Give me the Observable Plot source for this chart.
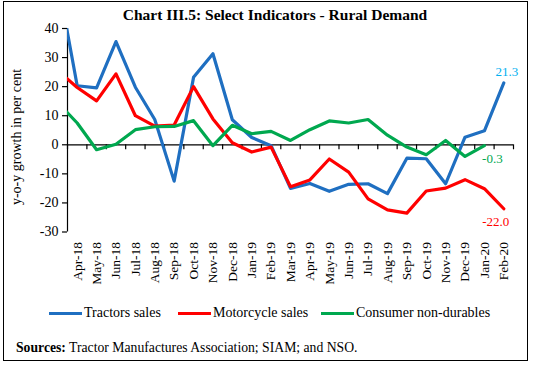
<!DOCTYPE html>
<html><head><meta charset="utf-8">
<script src="https://cdn.jsdelivr.net/npm/d3@7"></script>
<script src="https://cdn.jsdelivr.net/npm/@observablehq/plot@0.6"></script>
<style>
body{margin:0;background:#fff;}
#chart{position:relative;width:533px;height:366px;font-family:"Liberation Serif","Times New Roman",serif;color:#000;overflow:hidden;}
#chart svg, #chart svg text{font-family:"Liberation Serif","Times New Roman",serif !important;}
#frame{position:absolute;left:3px;top:1px;width:525px;height:360px;border:1.3px solid #000;box-sizing:border-box;}
#title{position:absolute;top:6px;left:0;width:550px;text-align:center;font-weight:bold;font-size:15.5px;line-height:18px;}
#plot{position:absolute;left:0;top:20px;}
#ylabel{position:absolute;left:17px;top:137px;transform:translate(-50%,-50%) rotate(-90deg);white-space:nowrap;font-size:14px;}
.leg{position:absolute;top:304px;font-size:14px;line-height:18px;white-space:nowrap;}
.sw{position:absolute;top:312px;height:3px;width:33px;}
#src{position:absolute;left:16px;top:339px;font-size:13.7px;line-height:18px;white-space:nowrap;}
</style></head>
<body>
<div id="chart">
  <div id="frame"></div>
  <div id="title">Chart III.5: Select Indicators - Rural Demand</div>
  <div id="plot"></div>
  <div id="ylabel">y-o-y growth in per cent</div>
  <div id="legend"></div>
  <div id="src"><b>Sources:</b> Tractor Manufactures Association; SIAM; and NSO.</div>
</div>
<script>
// Categories: first month (Mar-18) lies just left of the axis and is clipped
const months = ["Mar-18","Apr-18","May-18","Jun-18","Jul-18","Aug-18","Sep-18","Oct-18","Nov-18","Dec-18",
  "Jan-19","Feb-19","Mar-19","Apr-19","May-19","Jun-19","Jul-19","Aug-19","Sep-19","Oct-19","Nov-19","Dec-19",
  "Jan-20","Feb-20"];
const tractors = [56.7,20.3,19.6,35.5,19.8,8.7,-12.5,23.2,31.3,8.6,2.5,-0.3,-15.0,-13.3,-16.0,-13.6,-13.4,-16.8,-4.6,-4.8,-13.4,2.6,4.8,21.3];
const motorcycles = [25.5,19.7,15.1,24.4,10.0,6.4,6.8,20.0,8.9,0.7,-2.5,-0.8,-14.4,-12.1,-4.9,-9.4,-18.6,-22.4,-23.5,-15.9,-14.9,-12.0,-15.1,-22.0];
const consumer = [14.5,7.5,-1.7,0.2,5.2,6.2,6.3,8.3,-0.3,6.7,3.8,4.6,1.5,5.2,8.2,7.5,8.7,3.3,-0.8,-3.4,1.5,-4.0,-0.3];
const seriesNames = ["Tractors sales","Motorcycle sales","Consumer non-durables"];
const seriesColors = ["#1F6FC1","#FF0000","#00A84F"];
const labelColors = ["#00B0F0","#FF0000","#00A84F"];
const yTicks = [-30,-20,-10,0,10,20,30,40];

const visible = months.slice(1);           // axis labels Apr-18 .. Feb-20
const allSeries = [tractors, motorcycles, consumer];
const rows = allSeries.map((arr, s) => arr.map((v, k) => ({i: k - 1, v, s})));
const lastRows = rows.map(r => r[r.length - 1]);
const tickPos = d3.range(visible.length + 1).map(k => k - 0.5);
const labelOffsets = [[3, -11], [-8, 13], [8, 13]];
const serif = "'Liberation Serif','Times New Roman',serif";

const chart = Plot.plot({
  width: 533, height: 272,
  marginLeft: 67, marginRight: 20, marginTop: 8, marginBottom: 60.5,
  x: {type: "linear", domain: [-0.5, visible.length - 0.5], label: null},
  y: {domain: [-30, 40], label: null},
  style: {fontFamily: serif, color: "#000", background: "transparent", overflow: "visible"},
  marks: [
    Plot.ruleX([-0.5], {stroke: "#000", strokeWidth: 1.2}),
    Plot.axisY({ticks: yTicks, label: null, tickSize: 5, tickPadding: 4, fontSize: 14, fontFamily: serif,
      tickFormat: d => d < 0 ? "-" + Math.abs(d) : String(d), strokeWidth: 1.2}),
    Plot.ruleY([0], {stroke: "#000", strokeWidth: 1.2}),
    Plot.ruleX(tickPos, {x: d => d, y1: 0, y2: 0, insetBottom: -5, stroke: "#000", strokeWidth: 1.2}),
    Plot.axisX({ticks: d3.range(visible.length), label: null, tickFormat: i => visible[i], tickSize: 0,
      tickPadding: 10, tickRotate: -90, fontSize: 13.5, fontFamily: serif}),
    ...rows.map((r, s) => Plot.line(r, {x: "i", y: "v", stroke: seriesColors[s], strokeWidth: 3.2, clip: true})),
    ...lastRows.map((d, s) => Plot.text([d], {x: "i", y: "v", text: e => e.v.toFixed(1), fill: labelColors[s],
      fontSize: 13, fontFamily: serif, dx: labelOffsets[s][0], dy: labelOffsets[s][1]}))
  ]
});
document.getElementById("plot").append(chart);

// legend
const legend = document.getElementById("legend");
const swX = [49, 178, 321];
seriesNames.forEach((n, s) => {
  const sw = document.createElement("div");
  sw.className = "sw"; sw.style.left = swX[s] + "px"; sw.style.background = seriesColors[s];
  legend.append(sw);
  const t = document.createElement("div");
  t.className = "leg"; t.style.left = (swX[s] + 35) + "px"; t.textContent = n;
  legend.append(t);
});
</script>
</body></html>
